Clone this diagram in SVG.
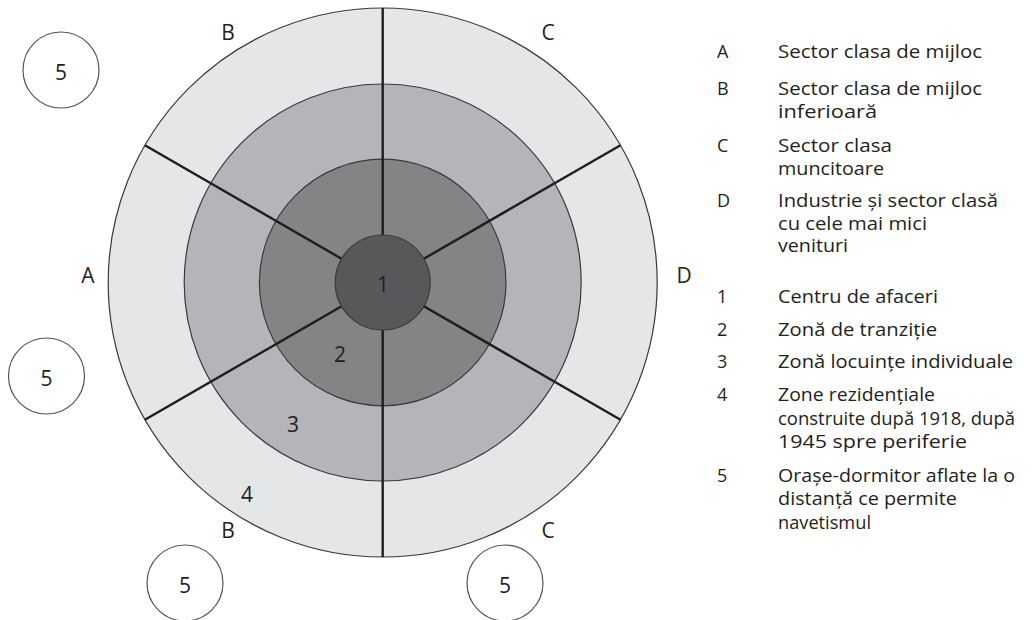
<svg xmlns="http://www.w3.org/2000/svg" width="1034" height="620" viewBox="0 0 1034 620">
  <style>
    .ring { stroke: #3a3a3c; stroke-width: 1.2; }
    .sector { stroke: #1e1e1e; stroke-width: 2.4; fill: none; }
    .town { fill: #ffffff; stroke: #555555; stroke-width: 1.2; }
    text { font-family: "Open Sans", "Liberation Sans", sans-serif; fill: #231f20; }
    .big { font-size: 21px; text-anchor: middle; }
    .leg { font-size: 18px; }
  </style>
  <rect width="1034" height="620" fill="#ffffff"/>

  <!-- concentric zones -->
  <g id="zone4"><circle class="ring" cx="382.7" cy="282.5" r="274.5" fill="#e5e6e8"/></g>
  <g id="zone3"><circle class="ring" cx="382.7" cy="282.5" r="198.5" fill="#b4b5b8"/></g>
  <g id="zone2"><circle class="ring" cx="382.7" cy="282.5" r="123.3" fill="#838486"/></g>

  <!-- sector boundaries -->
  <g id="sectors">
    <line class="sector" x1="382.7" y1="282.5" x2="382.7" y2="8"/>
    <line class="sector" x1="382.7" y1="282.5" x2="382.7" y2="557"/>
    <line class="sector" x1="382.7" y1="282.5" x2="144.9" y2="145.2"/>
    <line class="sector" x1="382.7" y1="282.5" x2="620.5" y2="145.2"/>
    <line class="sector" x1="382.7" y1="282.5" x2="144.9" y2="419.8"/>
    <line class="sector" x1="382.7" y1="282.5" x2="620.5" y2="419.8"/>
  </g>

  <g id="zone1"><circle class="ring" cx="382.7" cy="282.5" r="47.5" fill="#58585a"/></g>

  <!-- zone numbers -->
  <g id="zone-labels">
    <text class="big" x="383" y="292">1</text>
    <text class="big" x="340" y="362">2</text>
    <text class="big" x="293" y="432">3</text>
    <text class="big" x="247" y="502">4</text>
  </g>

  <!-- sector letters -->
  <g id="sector-labels">
    <text class="big" x="228" y="40">B</text>
    <text class="big" x="548" y="40">C</text>
    <text class="big" x="88" y="283">A</text>
    <text class="big" x="684" y="283">D</text>
    <text class="big" x="228" y="538">B</text>
    <text class="big" x="548" y="538">C</text>
  </g>

  <!-- commuter towns -->
  <g id="town-nw"><circle class="town" cx="61" cy="70" r="38"/><text class="big" x="61" y="80">5</text></g>
  <g id="town-w"><circle class="town" cx="46.5" cy="376" r="38"/><text class="big" x="46.5" y="386">5</text></g>
  <g id="town-sw"><circle class="town" cx="185" cy="583" r="38"/><text class="big" x="185" y="593">5</text></g>
  <g id="town-se"><circle class="town" cx="505" cy="583" r="38"/><text class="big" x="505" y="593">5</text></g>

  <!-- legend -->
  <g id="legend" class="leg">
    <text x="717" y="58">A</text>
    <text x="778" y="58" textLength="204" lengthAdjust="spacingAndGlyphs">Sector clasa de mijloc</text>
    <text x="717" y="95">B</text>
    <text x="778" y="95" textLength="204" lengthAdjust="spacingAndGlyphs">Sector clasa de mijloc</text>
    <text x="778" y="118" textLength="99" lengthAdjust="spacingAndGlyphs">inferioară</text>
    <text x="717" y="152">C</text>
    <text x="778" y="152" textLength="114" lengthAdjust="spacingAndGlyphs">Sector clasa</text>
    <text x="778" y="175" textLength="106" lengthAdjust="spacingAndGlyphs">muncitoare</text>
    <text x="717" y="207">D</text>
    <text x="778" y="207" textLength="220" lengthAdjust="spacingAndGlyphs">Industrie și sector clasă</text>
    <text x="778" y="230" textLength="149" lengthAdjust="spacingAndGlyphs">cu cele mai mici</text>
    <text x="778" y="252" textLength="70" lengthAdjust="spacingAndGlyphs">venituri</text>
    <text x="717" y="303">1</text>
    <text x="778" y="303" textLength="160" lengthAdjust="spacingAndGlyphs">Centru de afaceri</text>
    <text x="717" y="336">2</text>
    <text x="778" y="336" textLength="159" lengthAdjust="spacingAndGlyphs">Zonă de tranziție</text>
    <text x="717" y="368">3</text>
    <text x="778" y="368" textLength="235" lengthAdjust="spacingAndGlyphs">Zonă locuințe individuale</text>
    <text x="717" y="401">4</text>
    <text x="778" y="401" textLength="157" lengthAdjust="spacingAndGlyphs">Zone rezidențiale</text>
    <text x="778" y="425" textLength="237" lengthAdjust="spacingAndGlyphs">construite după 1918, după</text>
    <text x="778" y="448" textLength="189" lengthAdjust="spacingAndGlyphs">1945 spre periferie</text>
    <text x="717" y="482">5</text>
    <text x="778" y="482" textLength="237" lengthAdjust="spacingAndGlyphs">Orașe-dormitor aflate la o</text>
    <text x="778" y="505" textLength="179" lengthAdjust="spacingAndGlyphs">distanță ce permite</text>
    <text x="778" y="529" textLength="93" lengthAdjust="spacingAndGlyphs">navetismul</text>
  </g>
</svg>
